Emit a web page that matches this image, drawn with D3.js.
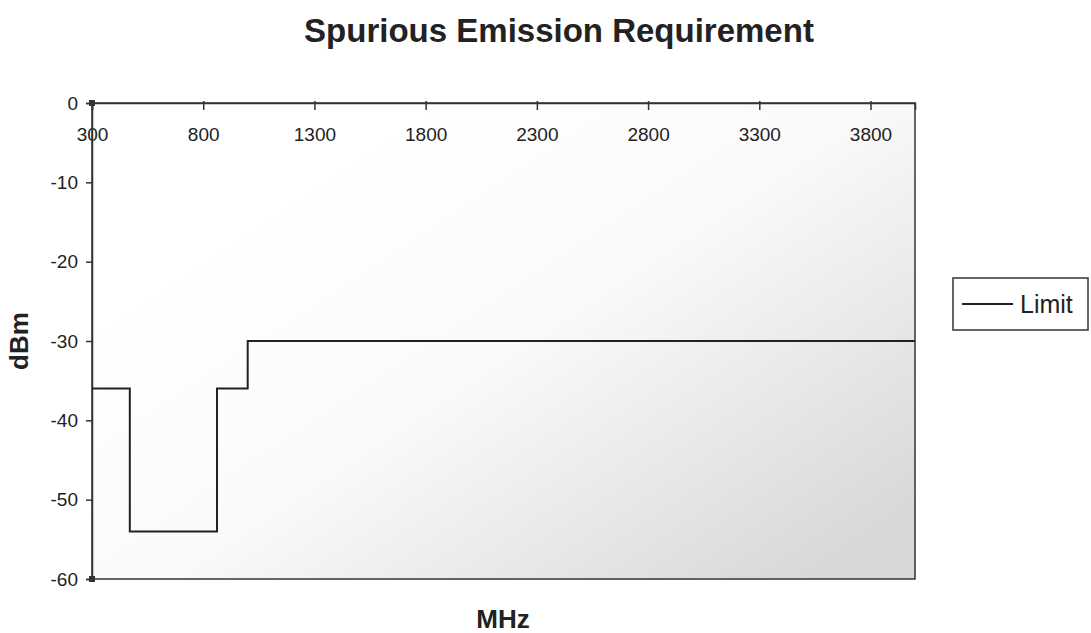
<!DOCTYPE html>
<html>
<head>
<meta charset="utf-8">
<script src="https://d3js.org/d3.v7.min.js"></script>
<style>
  body { margin: 0; background: #ffffff; }
  text { font-family: "Liberation Sans", Arial, sans-serif; fill: #222; }
</style>
</head>
<body>
<svg id="chart" width="1091" height="633"></svg>
<script>
// band edges (MHz) and the limit that applies from each edge onwards (dBm)
var bandStart = [300, 470, 862, 1000, 4000];
var limit = [-36, -54, -36, -30, -30];
var xTicks = [300, 800, 1300, 1800, 2300, 2800, 3300, 3800];
var yTicks = [0, -10, -20, -30, -40, -50, -60];
var seriesName = "Limit";

var svg = d3.select("#chart");
var plotL = 92, plotR = 915, plotT = 103, plotB = 579;

var x = d3.scaleLinear().domain([300, 4000]).range([plotL, plotR]);
var y = d3.scaleLinear().domain([0, -60]).range([plotT, plotB]);

// faint grey shading of the plot area, darker towards the lower right
var defs = svg.append("defs");
var grad = defs.append("linearGradient")
    .attr("id", "bg")
    .attr("x1", "0.25").attr("y1", "0.2")
    .attr("x2", "1").attr("y2", "0.85");
grad.append("stop").attr("offset", "0").attr("stop-color", "#ffffff");
grad.append("stop").attr("offset", "0.4").attr("stop-color", "#fafafa");
grad.append("stop").attr("offset", "1").attr("stop-color", "#d8d8d8");

svg.append("rect")
    .attr("x", plotL).attr("y", plotT)
    .attr("width", plotR - plotL).attr("height", plotB - plotT)
    .attr("fill", "url(#bg)")
    .attr("stroke", "#333")
    .attr("stroke-width", 1.5);

// x axis sits on top (value 0), ticks pointing into the plot
var xAxis = svg.append("g")
    .attr("transform", "translate(0," + y(0) + ")")
    .call(d3.axisBottom(x).tickValues(xTicks).tickSize(7).tickPadding(18).tickFormat(d3.format("d")));
xAxis.select(".domain").attr("stroke", "#333").attr("stroke-width", 1.5);
xAxis.selectAll(".tick line").attr("stroke", "#333").attr("stroke-width", 1.5).attr("y1", -2);
xAxis.selectAll(".tick text")
    .attr("font-family", "Liberation Sans, Arial, sans-serif")
    .attr("font-size", 19).attr("fill", "#444");

var yAxis = svg.append("g")
    .attr("transform", "translate(" + plotL + ",0)")
    .call(d3.axisLeft(y).tickValues(yTicks).tickSize(6).tickPadding(8)
        .tickFormat(function(d) { return String(d); }));
yAxis.select(".domain").attr("stroke", "#333").attr("stroke-width", 1.5);
yAxis.selectAll(".tick line").attr("stroke", "#333").attr("stroke-width", 1.5);
yAxis.selectAll(".tick text")
    .attr("font-family", "Liberation Sans, Arial, sans-serif")
    .attr("font-size", 19).attr("fill", "#444");

// little dark squares at the axis corners
svg.selectAll("rect.corner")
    .data([0, -60])
    .enter().append("rect")
    .attr("class", "corner")
    .attr("x", x(300) - 3).attr("y", function(d) { return y(d) - 3; })
    .attr("width", 6).attr("height", 6)
    .attr("fill", "#333");

// the step line
var pts = bandStart.map(function(f, i) { return [f, limit[i]]; });
svg.append("path")
    .datum(pts)
    .attr("fill", "none")
    .attr("stroke", "#222")
    .attr("stroke-width", 2)
    .attr("d", d3.line().x(function(d) { return x(d[0]); }).y(function(d) { return y(d[1]); }).curve(d3.curveStepAfter));

// titles
svg.append("text")
    .attr("x", 559).attr("y", 42)
    .attr("text-anchor", "middle")
    .attr("font-size", 33).attr("font-weight", "bold")
    .text("Spurious Emission Requirement");

svg.append("text")
    .attr("x", 503).attr("y", 628)
    .attr("text-anchor", "middle")
    .attr("font-size", 26).attr("font-weight", "bold")
    .text("MHz");

svg.append("text")
    .attr("transform", "translate(28," + ((plotT + plotB) / 2) + ") rotate(-90)")
    .attr("text-anchor", "middle")
    .attr("font-size", 26).attr("font-weight", "bold")
    .text("dBm");

// legend
var lg = svg.append("g").attr("transform", "translate(953,278)");
lg.append("rect")
    .attr("width", 135).attr("height", 52)
    .attr("fill", "#fff")
    .attr("stroke", "#333").attr("stroke-width", 1.5);
lg.append("line")
    .attr("x1", 9).attr("x2", 60)
    .attr("y1", 26).attr("y2", 26)
    .attr("stroke", "#222").attr("stroke-width", 2);
lg.append("text")
    .attr("x", 67).attr("y", 35)
    .attr("font-size", 25)
    .text(seriesName);
</script>
</body>
</html>
